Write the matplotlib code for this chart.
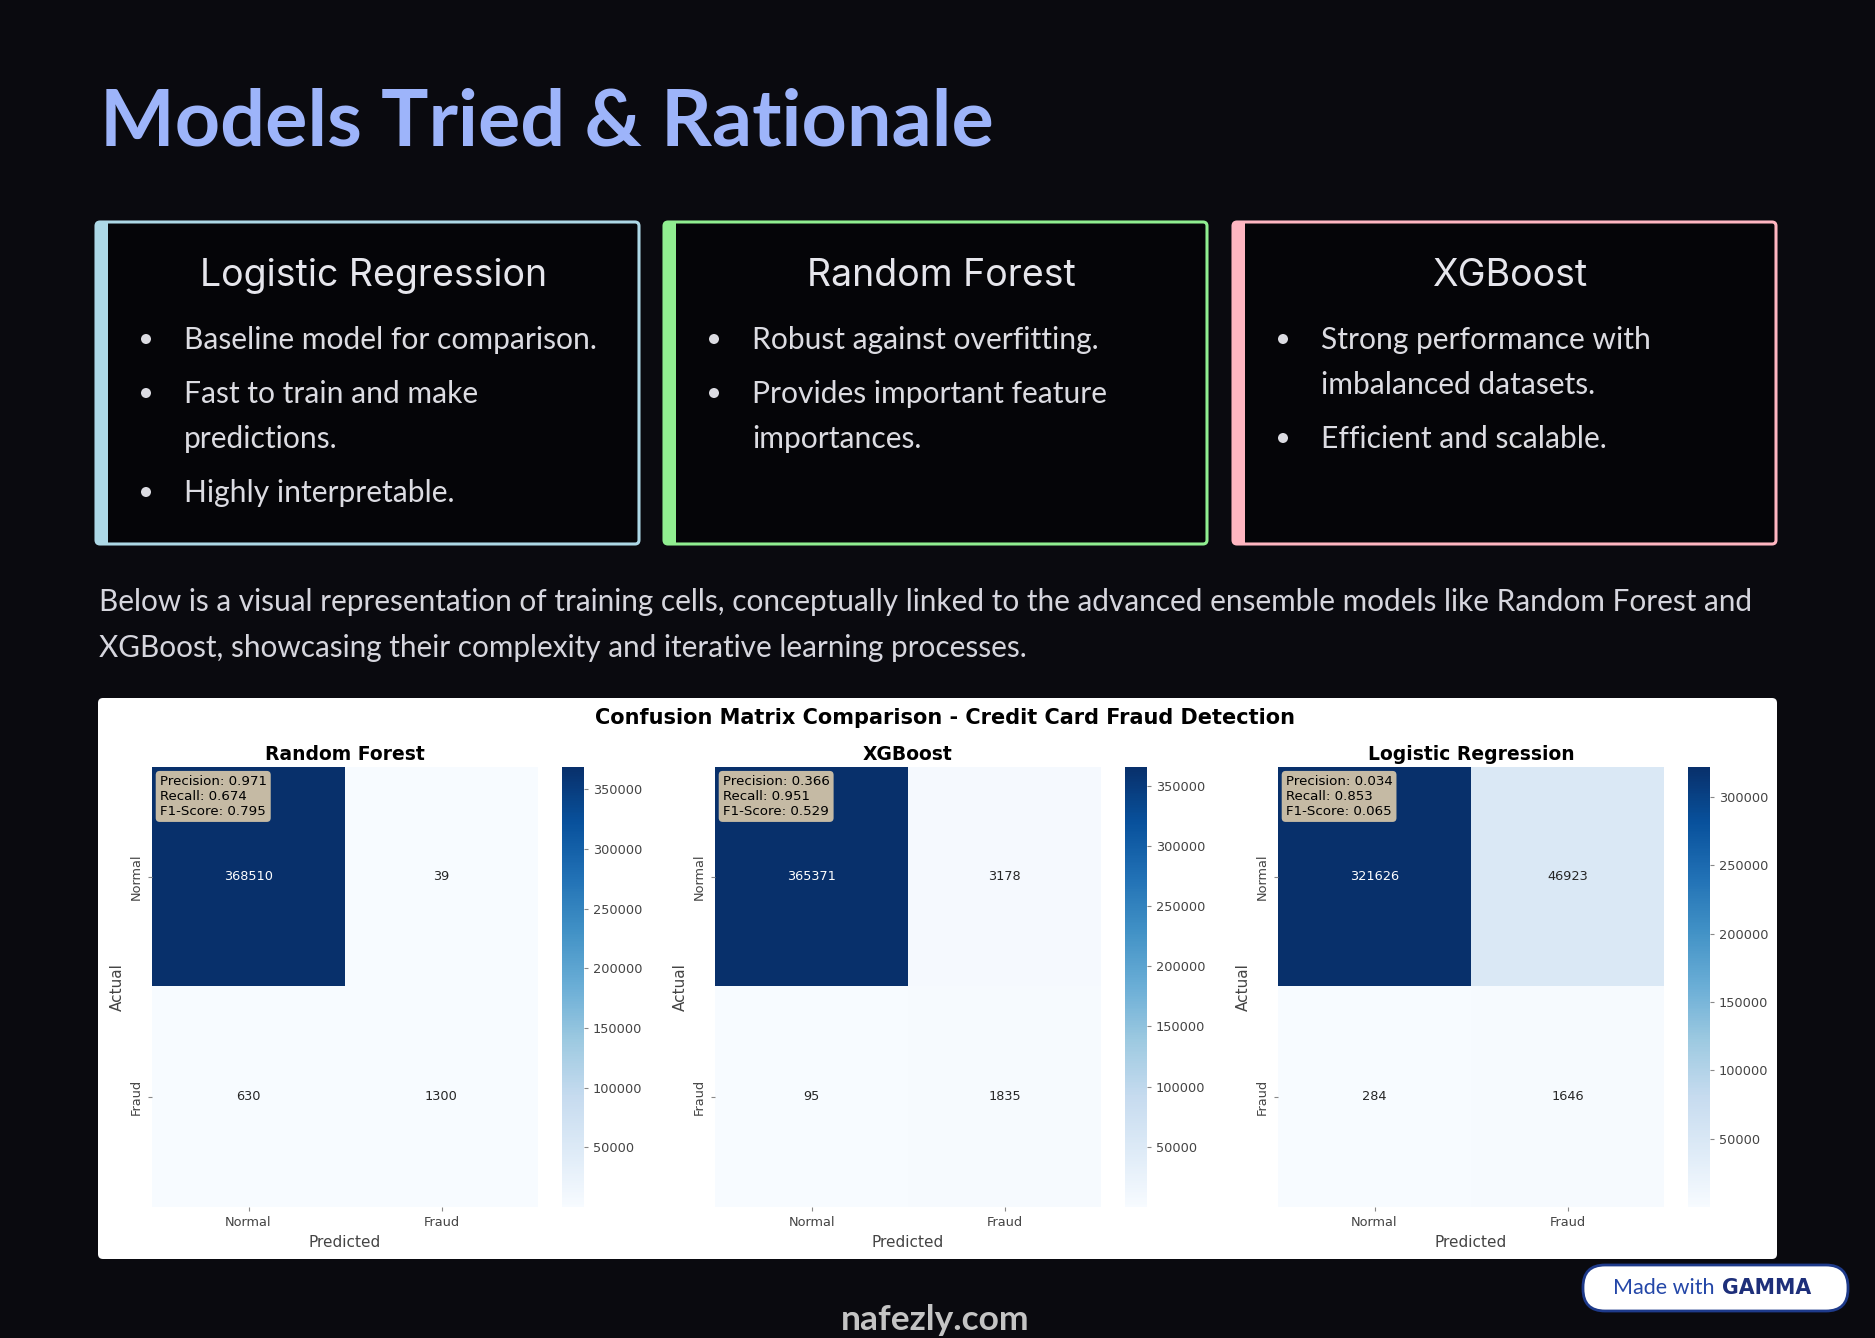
import numpy as np
import matplotlib
matplotlib.use("Agg")
import matplotlib.pyplot as plt
from matplotlib.patches import FancyBboxPatch, Rectangle, Circle

# ---------------- data ----------------
slide_title = "Models Tried & Rationale"
card_titles = ["Logistic Regression", "Random Forest", "XGBoost"]
card_colors = ["#add8e6", "#90ee90", "#ffb6c1"]
card_bullets = [
    [["Baseline model for comparison."], ["Fast to train and make", "predictions."], ["Highly interpretable."]],
    [["Robust against overfitting."], ["Provides important feature", "importances."]],
    [["Strong performance with", "imbalanced datasets."], ["Efficient and scalable."]],
]
paragraph_lines = [
    "Below is a visual representation of training cells, conceptually linked to the advanced ensemble models like Random Forest and",
    "XGBoost, showcasing their complexity and iterative learning processes.",
]

suptitle = "Confusion Matrix Comparison - Credit Card Fraud Detection"
models = ["Random Forest", "XGBoost", "Logistic Regression"]
class_labels = ["Normal", "Fraud"]
cm_rf = [[368510, 39], [630, 1300]]
cm_xgb = [[365371, 3178], [95, 1835]]
cm_lr = [[321626, 46923], [284, 1646]]
precision = [0.971, 0.366, 0.034]
recall = [0.674, 0.951, 0.853]
f1_score = [0.795, 0.529, 0.065]

# ---------------- figure ----------------
W, H = 1875, 1338
BG = "#0a0a0f"
fig = plt.figure(figsize=(W / 100, H / 100), dpi=100, facecolor=BG)
bg = fig.add_axes([0, 0, 1, 1], zorder=0)
bg.set_xlim(0, W)
bg.set_ylim(H, 0)
bg.axis("off")
bg.set_facecolor(BG)

SLIDE_FONT = ["Lato", "DejaVu Sans"]
HEAD_FONT = ["Inter", "DejaVu Sans"]

# title
bg.text(100, 145, slide_title, color="#9db4fa", fontsize=57, fontweight="bold",
        family=SLIDE_FONT, va="baseline", ha="left")

# cards
card_x = [96, 664, 1233]
card_w = 543
card_top, card_bot = 222, 544
stripe = 12
for i in range(3):
    x0 = card_x[i]
    col = card_colors[i]
    bg.add_patch(FancyBboxPatch((x0, card_top), card_w, card_bot - card_top,
                                boxstyle="round,pad=0,rounding_size=4",
                                facecolor="#050508", edgecolor=col, linewidth=2.2, zorder=1))
    bg.add_patch(Rectangle((x0, card_top), stripe, card_bot - card_top,
                           facecolor=col, edgecolor="none", zorder=2))
    cx = x0 + stripe + (card_w - stripe) / 2
    bg.text(cx, 286, card_titles[i], color="#e6e6ec", fontsize=27, family=HEAD_FONT,
            ha="center", va="baseline", zorder=3)
    y = 349
    for item in card_bullets[i]:
        bg.add_patch(Circle((x0 + 50, y - 10), 5, facecolor="#dcdce2", edgecolor="none", zorder=3))
        for j, line in enumerate(item):
            bg.text(x0 + 88, y, line, color="#dcdce2", fontsize=21.6, family=SLIDE_FONT,
                    ha="left", va="baseline", zorder=3)
            if j < len(item) - 1:
                y += 45
        y += 54

# paragraph
for k, line in enumerate(paragraph_lines):
    bg.text(99, 611 + 46 * k, line, color="#d6d6de", fontsize=21.4, family=SLIDE_FONT,
            ha="left", va="baseline")

# white chart panel
bg.add_patch(FancyBboxPatch((98, 698), 1777 - 98, 1259 - 698,
                            boxstyle="round,pad=0,rounding_size=5",
                            facecolor="white", edgecolor="none", zorder=1))
bg.text(945, 718, suptitle, color="black", fontsize=15, fontweight="bold",
        ha="center", va="center", zorder=3)

# heatmaps
mats = [cm_rf, cm_xgb, cm_lr]
hm_left = [152, 715, 1278]
hm_top, hm_w, hm_h = 767, 386, 440
cb_off, cb_w = 410, 22
TICK_C = "#444444"


def fax(x, y, w, h):
    return [x / W, 1 - (y + h) / H, w / W, h / H]


for i, cm in enumerate(mats):
    cm = np.array(cm)
    ax = fig.add_axes(fax(hm_left[i], hm_top, hm_w, hm_h), zorder=2)
    cax = fig.add_axes(fax(hm_left[i] + cb_off, hm_top, cb_w, hm_h), zorder=2)
    vmin, vmax = cm.min(), cm.max()
    im = ax.imshow(cm, cmap="Blues", vmin=vmin, vmax=vmax, aspect="auto",
                   interpolation="nearest")
    cmap = plt.get_cmap("Blues")
    for r in range(2):
        for c in range(2):
            v = cm[r, c]
            rgba = cmap((v - vmin) / (vmax - vmin))
            lum = 0.2126 * rgba[0] + 0.7152 * rgba[1] + 0.0722 * rgba[2]
            tc = "white" if lum < 0.408 else "#262626"
            ax.text(c, r, str(v), ha="center", va="center", fontsize=9.3, color=tc)
    ax.set_xticks([0, 1])
    ax.set_yticks([0, 1])
    ax.set_xticklabels(class_labels, fontsize=9.3, color=TICK_C)
    ax.set_yticklabels(class_labels, fontsize=9.3, color=TICK_C, rotation=90, va="center")
    ax.tick_params(colors="#888888", length=3, width=0.8, labelcolor=TICK_C)
    for s in ax.spines.values():
        s.set_visible(False)
    ax.set_xlabel("Predicted", fontsize=11, color=TICK_C, labelpad=4)
    ax.set_ylabel("Actual", fontsize=11, color=TICK_C, labelpad=4)
    ax.set_title(models[i], fontsize=13.5, fontweight="bold", pad=5)
    ax.text(0.02, 0.982, f"Precision: {precision[i]:.3f}\nRecall: {recall[i]:.3f}\nF1-Score: {f1_score[i]:.3f}",
            transform=ax.transAxes, fontsize=9.6, va="top", ha="left", linespacing=1.2,
            bbox=dict(boxstyle="round", facecolor="wheat", alpha=0.8, edgecolor="none"))
    cb = fig.colorbar(im, cax=cax)
    cb.outline.set_visible(False)
    cax.tick_params(labelsize=9.3, colors="#888888", labelcolor=TICK_C, length=3, width=0.8)

# footer badge
bg.add_patch(FancyBboxPatch((1583, 1265), 1848 - 1583, 1311 - 1265,
                            boxstyle="round,pad=0,rounding_size=22",
                            facecolor="white", edgecolor="#1e3a8a", linewidth=2, zorder=3))
bg.text(1720, 1288, "Made with ", color="#2447a8", fontsize=15.5, family=SLIDE_FONT,
        ha="right", va="center", zorder=4)
bg.text(1722, 1288, "GAMMA", color="#1e2f7a", fontsize=14.8, fontweight="bold",
        family=["DejaVu Sans"], ha="left", va="center", zorder=4)

# watermark text
bg.text(935, 1320, "nafezly.com", color="#c4c4c4", fontsize=25.5, fontweight="bold",
        family=SLIDE_FONT, ha="center", va="center", zorder=4)

fig.savefig("out.png", dpi=100, facecolor=BG)
